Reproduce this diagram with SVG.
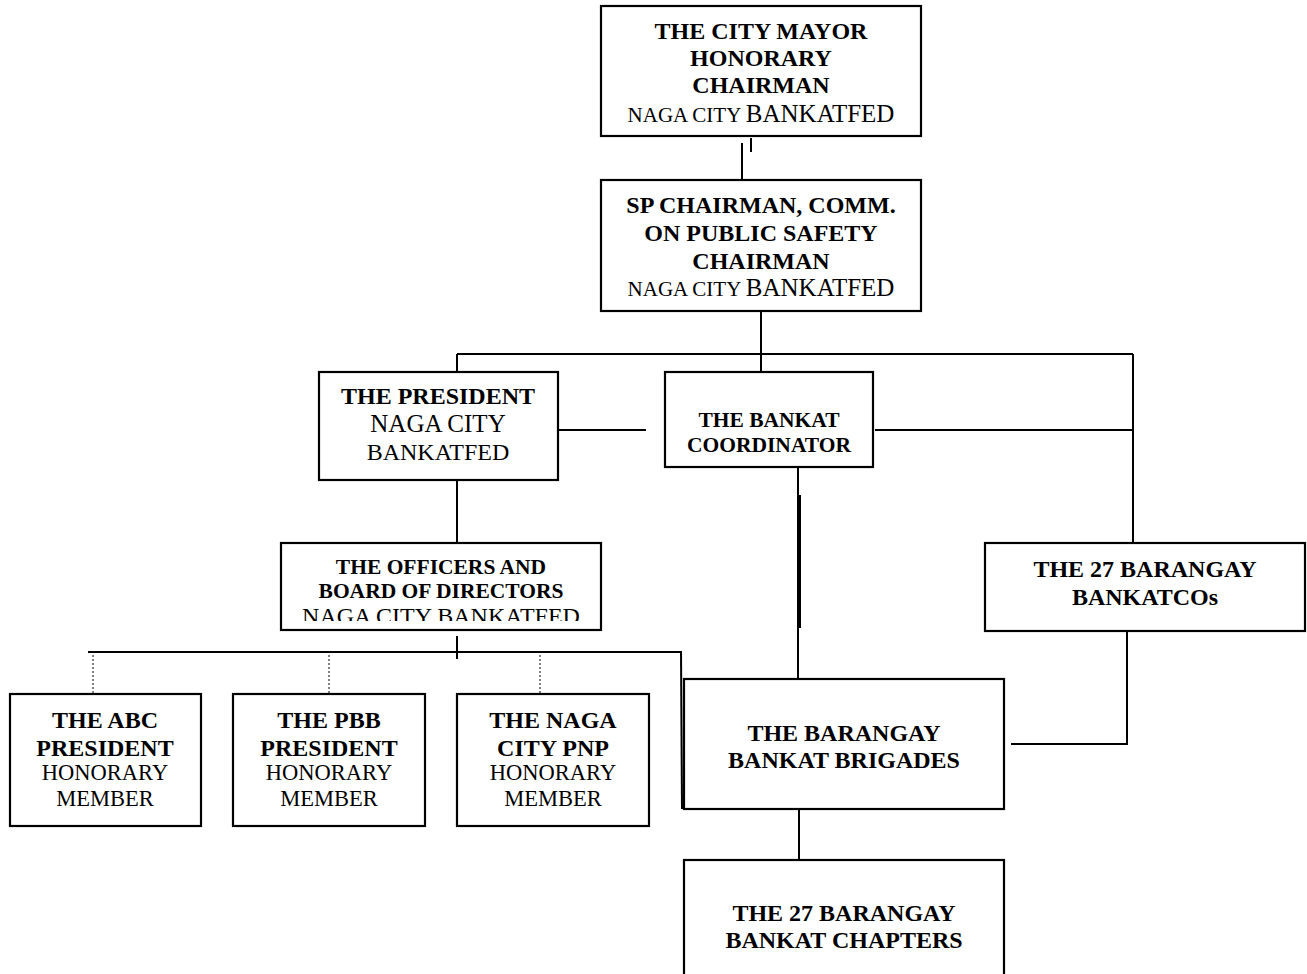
<svg xmlns="http://www.w3.org/2000/svg" width="1307" height="974" viewBox="0 0 1307 974">
<style>
.box{fill:#fff;stroke:#000;stroke-width:2.2}
.b{font-family:"Liberation Serif","Times New Roman",serif;font-weight:bold;font-size:24px;text-anchor:middle;fill:#000}
.r{font-family:"Liberation Serif","Times New Roman",serif;font-size:24px;text-anchor:middle;fill:#000}
.m{font-size:22.5px}
.ln{stroke:#000;stroke-width:2;fill:none}
.dot{stroke:#000;stroke-width:1;stroke-dasharray:2 2;fill:none}
</style>
<defs>
<clipPath id="offclip"><rect x="280" y="543" width="321" height="78"/></clipPath>
</defs>
<rect width="1307" height="974" fill="#fff"/>
<g id="connectors">
<line class="ln" x1="751" y1="138" x2="751" y2="152"/>
<line class="ln" x1="742" y1="143" x2="742" y2="180"/>
<line class="ln" x1="761" y1="311" x2="761" y2="372"/>
<line class="ln" x1="457" y1="354" x2="1133" y2="354"/>
<line class="ln" x1="457" y1="354" x2="457" y2="372"/>
<line class="ln" x1="1133" y1="354" x2="1133" y2="549"/>
<line class="ln" x1="548" y1="430" x2="646" y2="430"/>
<line class="ln" x1="875" y1="430" x2="1133" y2="430"/>
<line class="ln" x1="457" y1="480" x2="457" y2="543"/>
<line class="ln" x1="798" y1="467" x2="798" y2="679"/>
<line class="ln" x1="800" y1="495" x2="800" y2="628"/>
<line class="ln" x1="457" y1="636" x2="457" y2="659"/>
<line class="ln" x1="88" y1="652" x2="682" y2="652"/>
<line class="ln" x1="681" y1="652" x2="682" y2="809"/>
<line class="dot" x1="93" y1="655" x2="93" y2="708"/>
<line class="dot" x1="329" y1="655" x2="329" y2="708"/>
<line class="dot" x1="540" y1="655" x2="540" y2="708"/>
<polyline class="ln" points="1127,631 1127,744 1011,744"/>
<line class="ln" x1="799" y1="809" x2="799" y2="860"/>
</g>
<g id="mayor">
<rect class="box" x="601" y="6" width="320" height="130"/>
<text class="b" x="761" y="39">THE CITY MAYOR</text>
<text class="b" x="761" y="66">HONORARY</text>
<text class="b" x="761" y="93">CHAIRMAN</text>
<text class="r" x="761" y="122" style="font-size:25px"><tspan style="font-size:21px">NAGA CITY </tspan>BANKATFED</text>
</g>
<g id="sp-chairman">
<rect class="box" x="601" y="180" width="320" height="131"/>
<text class="b" x="761" y="213">SP CHAIRMAN, COMM.</text>
<text class="b" x="761" y="241">ON PUBLIC SAFETY</text>
<text class="b" x="761" y="269">CHAIRMAN</text>
<text class="r" x="761" y="296" style="font-size:25px"><tspan style="font-size:21px">NAGA CITY </tspan>BANKATFED</text>
</g>
<g id="president">
<rect class="box" x="319" y="372" width="239" height="108"/>
<text class="b" x="438" y="404">THE PRESIDENT</text>
<text class="r" x="438" y="432" style="font-size:25px">NAGA CITY</text>
<text class="r" x="438" y="460">BANKATFED</text>
</g>
<g id="coordinator">
<rect class="box" x="665" y="372" width="208" height="95"/>
<text class="b" x="769" y="427" style="font-size:21.5px">THE BANKAT</text>
<text class="b" x="769" y="452" style="font-size:21.5px">COORDINATOR</text>
</g>
<g id="officers">
<rect class="box" x="281" y="543" width="320" height="87"/>
<text class="b" x="441" y="574" style="font-size:21.5px">THE OFFICERS AND</text>
<text class="b" x="441" y="598" style="font-size:21.5px">BOARD OF DIRECTORS</text>
<text class="r" x="441" y="624" clip-path="url(#offclip)">NAGA CITY BANKATFED</text>
</g>
<g id="bankatcos">
<rect class="box" x="985" y="543" width="320" height="88"/>
<text class="b" x="1145" y="577">THE 27 BARANGAY</text>
<text class="b" x="1145" y="605">BANKATCOs</text>
</g>
<g id="abc">
<rect class="box" x="10" y="694" width="191" height="132"/>
<text class="b" x="105" y="728">THE ABC</text>
<text class="b" x="105" y="756">PRESIDENT</text>
<text class="r m" x="105" y="780">HONORARY</text>
<text class="r m" x="105" y="806">MEMBER</text>
</g>
<g id="pbb">
<rect class="box" x="233" y="694" width="192" height="132"/>
<text class="b" x="329" y="728">THE PBB</text>
<text class="b" x="329" y="756">PRESIDENT</text>
<text class="r m" x="329" y="780">HONORARY</text>
<text class="r m" x="329" y="806">MEMBER</text>
</g>
<g id="pnp">
<rect class="box" x="457" y="694" width="192" height="132"/>
<text class="b" x="553" y="728">THE NAGA</text>
<text class="b" x="553" y="756">CITY PNP</text>
<text class="r m" x="553" y="780">HONORARY</text>
<text class="r m" x="553" y="806">MEMBER</text>
</g>
<g id="brigades">
<rect class="box" x="684" y="679" width="320" height="130"/>
<text class="b" x="844" y="741">THE BARANGAY</text>
<text class="b" x="844" y="768">BANKAT BRIGADES</text>
</g>
<g id="chapters">
<rect class="box" x="684" y="860" width="320" height="130"/>
<text class="b" x="844" y="921">THE 27 BARANGAY</text>
<text class="b" x="844" y="948">BANKAT CHAPTERS</text>
</g>
</svg>
